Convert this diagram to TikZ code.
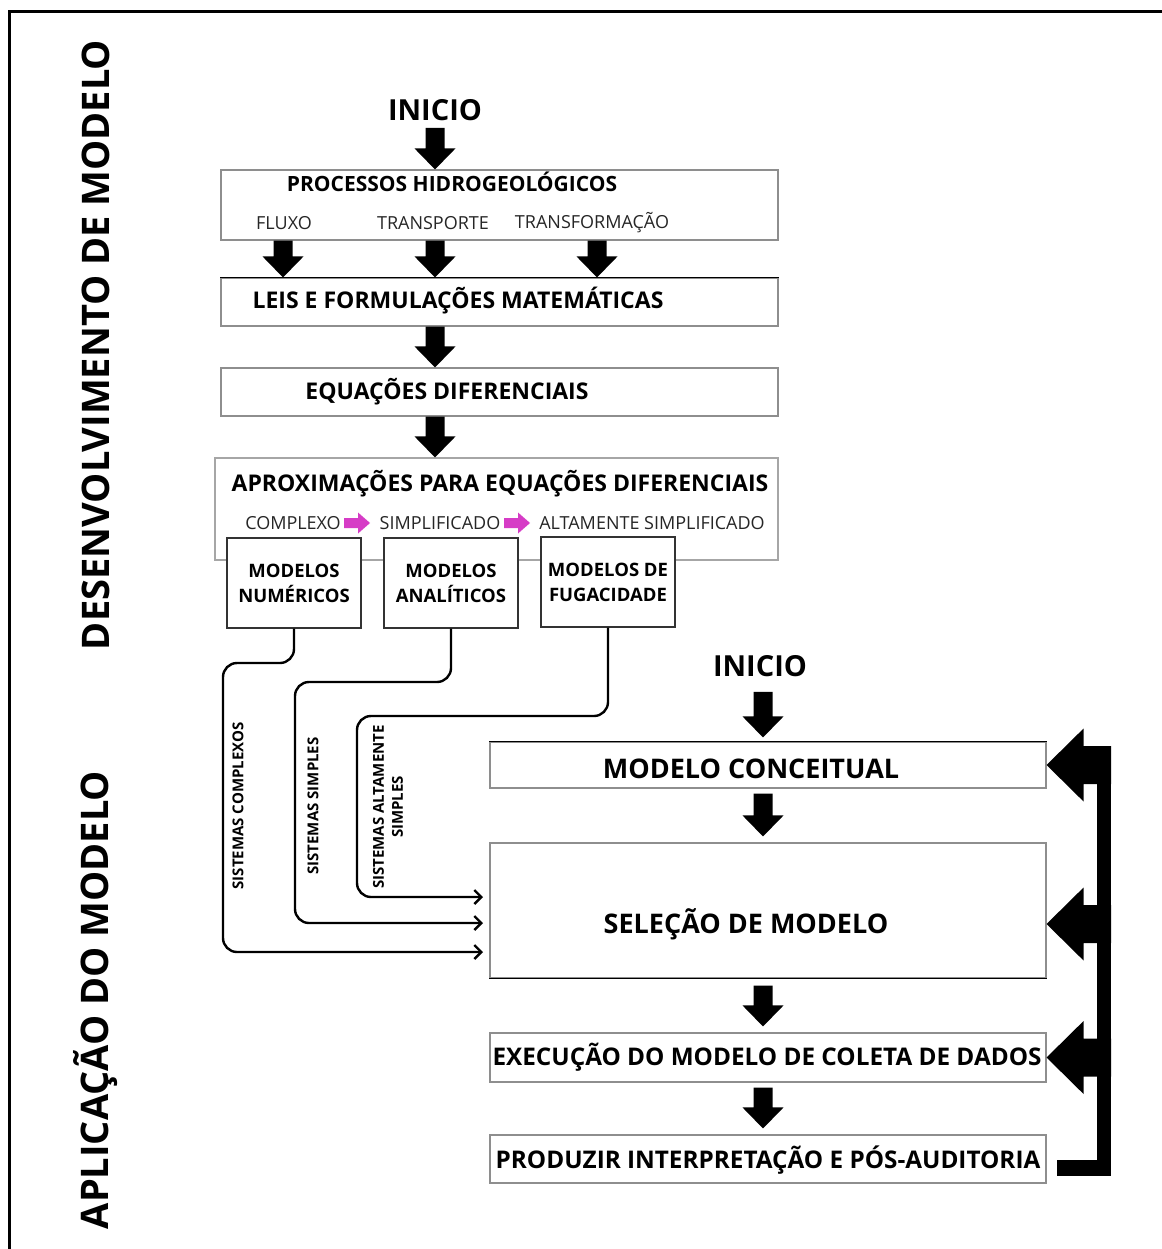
\documentclass[tikz,border=0pt]{standalone}
\usepackage{fontspec}
\setmainfont{Open Sans}
\usetikzlibrary{calc,arrows.meta}
\definecolor{boxline}{HTML}{8E8E8E}
\definecolor{stepmagenta}{HTML}{D63CC6}
\newcommand\sz[1]{\fontsize{#1}{#1}\selectfont}
\newcommand\szb[2]{\fontsize{#1}{#2}\selectfont}

\begin{document}
\begin{tikzpicture}[x=1pt,y=-1pt,
  box/.style={draw=boxline,line width=1.1pt,fill=white,inner sep=0pt},
  modelbox/.style={draw=black!80,line width=1.3pt,fill=white,inner sep=0pt,
    minimum width=134pt,minimum height=90pt,align=center,font=\bfseries\szb{18.5}{25}},
  title/.style={inner sep=0pt,font=\bfseries\sz{23}},
  sub/.style={inner sep=0pt,font=\sz{18},text=black!85},
  side/.style={inner sep=0pt,rotate=90,font=\bfseries\sz{38}},
  vlabel/.style={inner sep=0pt,rotate=90,font=\bfseries\szb{15}{19},align=center},
  blockdown/.style={to path={let \p1=(\tikztostart),\p2=(\tikztotarget) in
     (\x1-9.5pt,\y1) -- (\x1+9.5pt,\y1) -- (\x1+9.5pt,\y2+21pt) -- (\x1+20.5pt,\y2+21pt)
     -- (\x1,\y2) -- (\x1-20.5pt,\y2+21pt) -- (\x1-9.5pt,\y2+21pt) -- cycle}},
  feedback/.style={to path={let \p1=(\tikztostart),\p2=(\tikztotarget) in
     (\x1,\y2+19pt) -- (\x2+37pt,\y2+19pt) -- (\x2+37pt,\y2+36.5pt) -- (\x2,\y2)
     -- (\x2+37pt,\y2-36.5pt) -- (\x2+37pt,\y2-19pt) -- (\x1,\y2-19pt) -- cycle}},
  route/.style={line width=2.4pt,rounded corners=14pt,
     -{Straight Barb[length=7pt,width=14pt,line width=2.4pt]}},
  pinkarrow/.pic={\fill[stepmagenta] (-13,-5) -- (1,-5) -- (1,-10.5) -- (13,0)
     -- (1,10.5) -- (1,5) -- (-13,5) -- cycle;},
]
\useasboundingbox (0,0) rectangle (1161,1249);

% outer frame
\draw[line width=3pt] (9.5,1262) -- (9.5,11.5) -- (1175,11.5);

% section labels
\node[side] (devlab) at (96,345) {DESENVOLVIMENTO DE MODELO};
\node[side] (applab) at (96,1000) {APLICAÇÃO DO MODELO};

% ---------- model development ----------
\node[title,font=\bfseries\sz{29}] (start1) at (435,110) {INICIO};

\node[box,minimum width=557pt,minimum height=70pt] (proc) at (499.5,205) {};
\node[title,font=\bfseries\sz{21}] (proct) at (452,182) {PROCESSOS HIDROGEOLÓGICOS};
\node[sub] (fluxo) at (284,223) {FLUXO};
\node[sub] (transp) at (433,223) {TRANSPORTE};
\node[sub] (transf) at (592,223) {TRANSFORMAÇÃO};

\node[box,minimum width=557pt,minimum height=48pt] (leis) at (499.5,302) {};
\draw[line width=1.8pt] (leis.north west) -- (leis.north east);
\node[title] (leist) at (458,301) {LEIS E FORMULAÇÕES MATEMÁTICAS};

\node[box,minimum width=557pt,minimum height=48pt] (eqd) at (499.5,392) {};
\node[title] (eqdt) at (447,392) {EQUAÇÕES DIFERENCIAIS};

\node[box,draw=black!35,minimum width=563pt,minimum height=102pt] (aprox) at (496.5,509) {};
\node[title] (aproxt) at (500,484) {APROXIMAÇÕES PARA EQUAÇÕES DIFERENCIAIS};
\node[sub] (cplx) at (293,523) {COMPLEXO};
\pic at (357,523) {pinkarrow};
\node[sub] (simp) at (440,523) {SIMPLIFICADO};
\pic at (517,523) {pinkarrow};
\node[sub] (altsimp) at (652,523) {ALTAMENTE SIMPLIFICADO};

\node[modelbox] (num) at (294,583) {MODELOS\\NUMÉRICOS};
\node[modelbox] (ana) at (451,583) {MODELOS\\ANALÍTICOS};
\node[modelbox] (fug) at (608,582) {MODELOS DE\\FUGACIDADE};

% block arrows of the development chain
\coordinate (ax1) at (283,0);
\coordinate (ax2) at (435,0);
\coordinate (ax3) at (597,0);
\fill ($(start1.south -| ax2)+(0,7)$) to[blockdown] (proc.north -| ax2);
\fill (proc.south -| ax1) to[blockdown] (leis.north -| ax1);
\fill (proc.south -| ax2) to[blockdown] (leis.north -| ax2);
\fill (proc.south -| ax3) to[blockdown] (leis.north -| ax3);
\fill (leis.south -| ax2) to[blockdown] (eqd.north -| ax2);
\fill (eqd.south -| ax2) to[blockdown] (aprox.north -| ax2);

% ---------- model application ----------
\node[title,font=\bfseries\sz{29}] (start2) at (760,666) {INICIO};

\node[box,minimum width=556pt,minimum height=46pt] (cm) at (768,765) {};
\draw[line width=1.6pt] (cm.north west) -- (cm.north east);
\node[title,font=\bfseries\sz{27}] (cmt) at (751,769) {MODELO CONCEITUAL};

\node[box,minimum width=556pt,minimum height=135pt] (sel) at (768,910.5) {};
\draw[line width=1.6pt] (sel.south west) -- (sel.south east);
\node[title,font=\bfseries\sz{27}] (selt) at (746,924) {SELEÇÃO DE MODELO};

\node[box,minimum width=556pt,minimum height=49pt] (exe) at (768,1057.5) {};
\node[title,font=\bfseries\sz{24.3}] (exet) at (767,1057) {EXECUÇÃO DO MODELO DE COLETA DE DADOS};

\node[box,minimum width=556pt,minimum height=48pt] (prod) at (768,1159) {};
\node[title,font=\bfseries\sz{24.3}] (prodt) at (768,1160) {PRODUZIR INTERPRETAÇÃO E PÓS-AUDITORIA};

\coordinate (bx) at (763,0);
\fill ($(start2.south -| bx)+(0,15)$) to[blockdown] ($(cm.north -| bx)+(0,-4)$);
\fill ($(cm.south -| bx)+(0,5)$) to[blockdown] ($(sel.north -| bx)+(0,-6)$);
\fill ($(sel.south -| bx)+(0,7)$) to[blockdown] ($(exe.north -| bx)+(0,-6)$);
\fill ($(exe.south -| bx)+(0,5)$) to[blockdown] ($(prod.north -| bx)+(0,-6)$);

% routes from the model families into model selection
\coordinate (inA) at (483,952);
\coordinate (inB) at (483,923);
\coordinate (inC) at (483,897);
\draw[route] (num.south) |- (223,663) |- (inA);
\draw[route] (ana.south) |- (295,682) |- (inB);
\draw[route] (fug.south) |- (357,716) |- (inC);
\node[vlabel] (lab1) at (238,806) {SISTEMAS COMPLEXOS};
\node[vlabel] (lab2) at (313,806) {SISTEMAS SIMPLES};
\node[vlabel] (lab3) at (388,807) {SISTEMAS ALTAMENTE\\SIMPLES};

% feedback loop
\coordinate (fbr) at (1111,0);
\fill ($(fbr |- cm.east)+(-14,-19)$) rectangle ($(fbr |- prod.east)+(0,17)$);
\fill ($(prod.east)+(10,1)$) rectangle ($(fbr |- prod.east)+(0,17)$);
\fill (fbr |- cm.east) to[feedback] (cm.east);
\fill (fbr |- selt.center) to[feedback] (sel.east |- selt.center);
\fill (fbr |- exe.east) to[feedback] (exe.east);
\end{tikzpicture}
\end{document}
